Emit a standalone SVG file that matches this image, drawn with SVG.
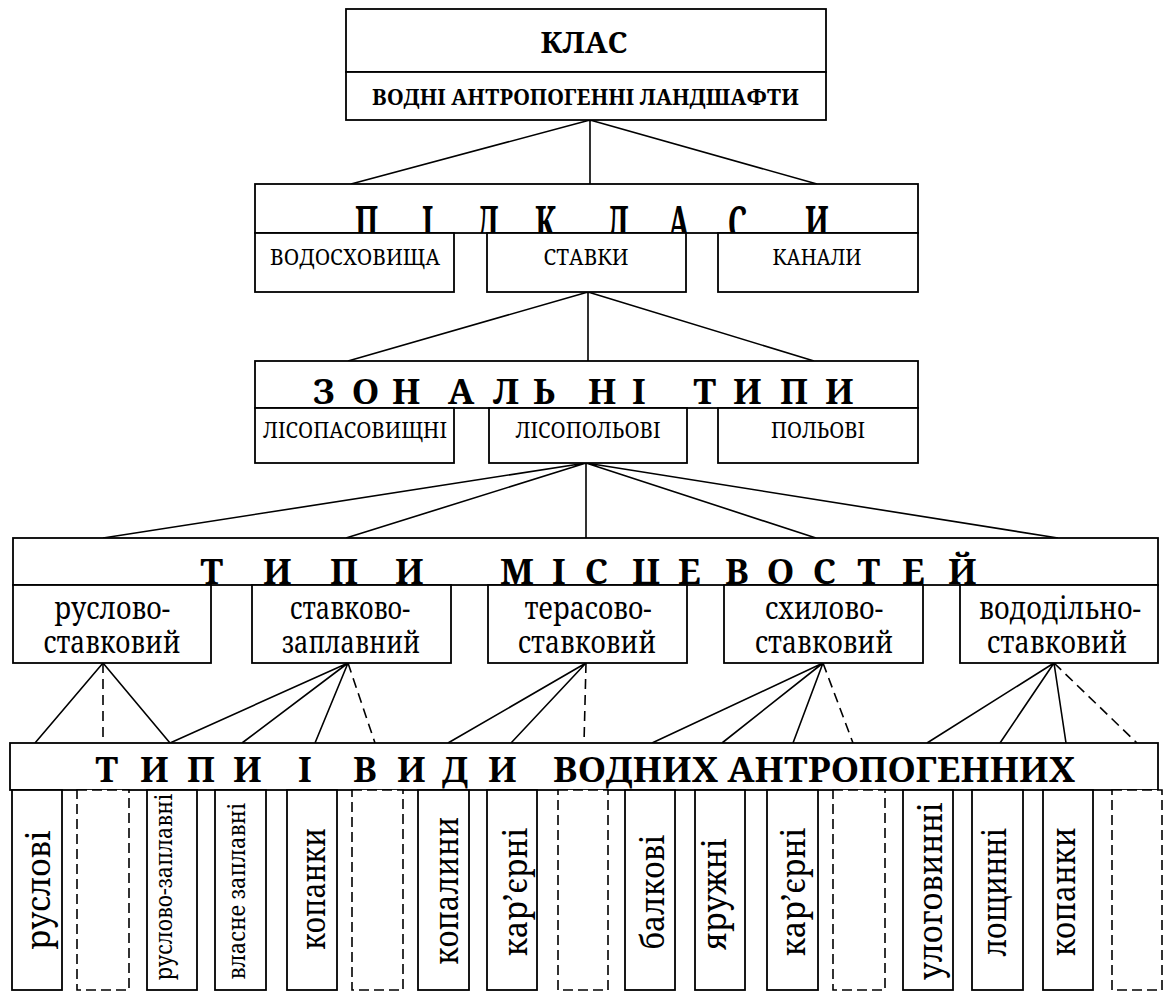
<svg xmlns="http://www.w3.org/2000/svg" width="1163" height="992" viewBox="0 0 1163 992">
<style>
.b{fill:#fff;stroke:#000;stroke-width:1.8}
.d{fill:#fff;stroke:#000;stroke-width:1.6;stroke-dasharray:10 5}
.c{fill:none;stroke:#000;stroke-width:1.6}
.cd{fill:none;stroke:#000;stroke-width:1.6;stroke-dasharray:10 6}
text{font-family:'Noto Serif','DejaVu Serif',serif;fill:#000}
.hb{font-weight:bold}
.s{font-size:21px;text-anchor:middle}
.m{font-size:30px;text-anchor:middle}
.v{font-size:33px;text-anchor:middle}
.vs{font-size:23px;text-anchor:middle}
</style>
<defs>
<clipPath id="cp1"><rect x="255" y="184" width="663" height="49"/></clipPath>
<clipPath id="cp2"><rect x="255" y="361" width="663" height="47"/></clipPath>
<clipPath id="cp3"><rect x="13" y="538" width="1145" height="47"/></clipPath>
<clipPath id="cp4"><rect x="10" y="743" width="1148" height="47"/></clipPath>
</defs>

<g id="connectors">
<path class="c" d="M590 120L351 184M590 120L590 184M590 120L817 184"/>
<path class="c" d="M588 292L348 361M588 292L588 361M588 292L814 361"/>
<path class="c" d="M586 463L103 538M586 463L346 538M586 463L586 538M586 463L816 538M586 463L1058 538"/>
<path class="c" d="M103 663L35 743M103 663L170 743"/>
<path class="cd" d="M103 663L103 743"/>
<path class="c" d="M348 663L170 743M348 663L242 743M348 663L315 743"/>
<path class="cd" d="M348 663L375 743"/>
<path class="c" d="M586 663L448 743M586 663L511 743"/>
<path class="cd" d="M586 663L584 743"/>
<path class="c" d="M823 663L652 743M823 663L722 743M823 663L793 743"/>
<path class="cd" d="M823 663L853 743"/>
<path class="c" d="M1054 663L927 743M1054 663L1000 743M1054 663L1066 743"/>
<path class="cd" d="M1054 663L1137 743"/>
</g>

<g id="klas">
<rect class="b" x="346" y="9" width="480" height="63"/>
<text class="hb" x="584" y="53" font-size="29" text-anchor="middle" textLength="87" lengthAdjust="spacingAndGlyphs">КЛАС</text>
</g>
<g id="vodni">
<rect class="b" x="346" y="72" width="480" height="48"/>
<text class="hb" x="372" y="105" font-size="22" textLength="427" lengthAdjust="spacingAndGlyphs">ВОДНІ АНТРОПОГЕННІ ЛАНДШАФТИ</text>
</g>

<g id="pidklasy">
<rect class="b" x="255" y="184" width="663" height="49"/>
<g clip-path="url(#cp1)">
<text class="hb" font-size="29" transform="matrix(1 0 0 1.65 0 240)" x="355 380 422 440 477 505 535 570 607 640 668 700 728 765 805" y="0">П І Д К Л А С И</text>
</g>
</g>
<g id="vodoskhovyshcha"><rect class="b" x="255" y="233" width="199" height="59"/><text class="s" x="355" y="265" textLength="170" lengthAdjust="spacingAndGlyphs">ВОДОСХОВИЩА</text></g>
<g id="stavky"><rect class="b" x="487" y="233" width="199" height="59"/><text class="s" x="586" y="265" textLength="85" lengthAdjust="spacingAndGlyphs">СТАВКИ</text></g>
<g id="kanaly"><rect class="b" x="718" y="233" width="200" height="59"/><text class="s" x="817" y="265" textLength="89" lengthAdjust="spacingAndGlyphs">КАНАЛИ</text></g>

<g id="zonalni">
<rect class="b" x="255" y="361" width="663" height="47"/>
<g clip-path="url(#cp2)">
<text class="hb" font-size="35" x="313 338 352 377 392 417 448 473 493 518 533 558 588 613 632 660 693 718 733 758 780 805 825" y="404">З О Н А Л Ь Н І Т И П И</text>
</g>
</g>
<g id="lisopasovyshchni"><rect class="b" x="255" y="408" width="199" height="55"/><text class="s" x="355" y="438" textLength="184" lengthAdjust="spacingAndGlyphs">ЛІСОПАСОВИЩНІ</text></g>
<g id="lisopolovi"><rect class="b" x="489" y="408" width="198" height="55"/><text class="s" x="588" y="438" textLength="145" lengthAdjust="spacingAndGlyphs">ЛІСОПОЛЬОВІ</text></g>
<g id="polovi"><rect class="b" x="718" y="408" width="200" height="55"/><text class="s" x="818" y="438" textLength="94" lengthAdjust="spacingAndGlyphs">ПОЛЬОВІ</text></g>

<g id="mistsevosti">
<rect class="b" x="13" y="538" width="1145" height="47"/>
<g clip-path="url(#cp3)">
<text class="hb" font-size="35" x="200 225 263 288 330 355 395 440 500 540 552 570 585 610 632 657 678 703 725 750 767 792 813 838 857 882 902 927 948" y="584">Т И П И М І С Ц Е В О С Т Е Й</text>
</g>
</g>
<g id="ruslovo-stavkovyi"><rect class="b" x="13" y="585" width="198" height="78"/><text class="m" x="112" y="619" textLength="116" lengthAdjust="spacingAndGlyphs">руслово-</text><text class="m" x="112" y="653" textLength="137" lengthAdjust="spacingAndGlyphs">ставковий</text></g>
<g id="stavkovo-zaplavnyi"><rect class="b" x="252" y="585" width="199" height="78"/><text class="m" x="350" y="619" textLength="120" lengthAdjust="spacingAndGlyphs">ставково-</text><text class="m" x="351" y="653" textLength="138" lengthAdjust="spacingAndGlyphs">заплавний</text></g>
<g id="terasovo-stavkovyi"><rect class="b" x="488" y="585" width="199" height="78"/><text class="m" x="588" y="619" textLength="127" lengthAdjust="spacingAndGlyphs">терасово-</text><text class="m" x="587" y="653" textLength="138" lengthAdjust="spacingAndGlyphs">ставковий</text></g>
<g id="skhylovo-stavkovyi"><rect class="b" x="724" y="585" width="199" height="78"/><text class="m" x="824" y="619" textLength="118" lengthAdjust="spacingAndGlyphs">схилово-</text><text class="m" x="824" y="653" textLength="138" lengthAdjust="spacingAndGlyphs">ставковий</text></g>
<g id="vododilno-stavkovyi"><rect class="b" x="960" y="585" width="198" height="78"/><text class="m" x="1060" y="619" textLength="162" lengthAdjust="spacingAndGlyphs">вододільно-</text><text class="m" x="1057" y="653" textLength="140" lengthAdjust="spacingAndGlyphs">ставковий</text></g>

<g id="typy-vydy">
<rect class="b" x="10" y="743" width="1148" height="47"/>
<g clip-path="url(#cp4)">
<text class="hb" font-size="35" x="95 120 140 165 187 212 233 270 298 330 353 378 397 422 442 467 488" y="782">Т И П И І В И Д И</text>
<text class="hb" font-size="35" x="553" y="782" textLength="522" lengthAdjust="spacingAndGlyphs">ВОДНИХ АНТРОПОГЕННИХ</text>
</g>
</g>

<g id="col1"><rect class="b" x="12" y="790" width="50" height="200"/><text class="v" transform="translate(50 890) rotate(-90)" textLength="120" lengthAdjust="spacingAndGlyphs">руслові</text></g>
<g id="col2"><rect class="d" x="77" y="790" width="52" height="200"/></g>
<g id="col3"><rect class="b" x="147" y="790" width="50" height="200"/><text class="vs" transform="translate(172 887) rotate(-90)" textLength="187" lengthAdjust="spacingAndGlyphs">руслово-заплавні</text></g>
<g id="col4"><rect class="b" x="215" y="790" width="51" height="200"/><text class="vs" transform="translate(245 891) rotate(-90)" textLength="177" lengthAdjust="spacingAndGlyphs">власне заплавні</text></g>
<g id="col5"><rect class="b" x="287" y="790" width="50" height="200"/><text class="v" transform="translate(325 889) rotate(-90)" textLength="122" lengthAdjust="spacingAndGlyphs">копанки</text></g>
<g id="col6"><rect class="d" x="352" y="790" width="51" height="200"/></g>
<g id="col7"><rect class="b" x="418" y="790" width="51" height="200"/><text class="v" transform="translate(458 891) rotate(-90)" textLength="148" lengthAdjust="spacingAndGlyphs">копалини</text></g>
<g id="col8"><rect class="b" x="487" y="790" width="50" height="200"/><text class="v" transform="translate(527 892) rotate(-90)" textLength="129" lengthAdjust="spacingAndGlyphs">кар’єрні</text></g>
<g id="col9"><rect class="d" x="558" y="790" width="50" height="200"/></g>
<g id="col10"><rect class="b" x="625" y="790" width="50" height="200"/><text class="v" transform="translate(664 892) rotate(-90)" textLength="115" lengthAdjust="spacingAndGlyphs">балкові</text></g>
<g id="col11"><rect class="b" x="695" y="790" width="50" height="200"/><text class="v" transform="translate(726 894) rotate(-90)" textLength="112" lengthAdjust="spacingAndGlyphs">яружні</text></g>
<g id="col12"><rect class="b" x="767" y="790" width="51" height="200"/><text class="v" transform="translate(805 892) rotate(-90)" textLength="129" lengthAdjust="spacingAndGlyphs">кар’єрні</text></g>
<g id="col13"><rect class="d" x="833" y="790" width="52" height="200"/></g>
<g id="col14"><rect class="b" x="903" y="790" width="50" height="200"/><text class="v" transform="translate(942 891) rotate(-90)" textLength="178" lengthAdjust="spacingAndGlyphs">улоговинні</text></g>
<g id="col15"><rect class="b" x="972" y="790" width="51" height="200"/><text class="v" transform="translate(1006 892) rotate(-90)" textLength="129" lengthAdjust="spacingAndGlyphs">лощинні</text></g>
<g id="col16"><rect class="b" x="1043" y="790" width="50" height="200"/><text class="v" transform="translate(1075 892) rotate(-90)" textLength="129" lengthAdjust="spacingAndGlyphs">копанки</text></g>
<g id="col17"><rect class="d" x="1112" y="790" width="50" height="200"/></g>
</svg>
